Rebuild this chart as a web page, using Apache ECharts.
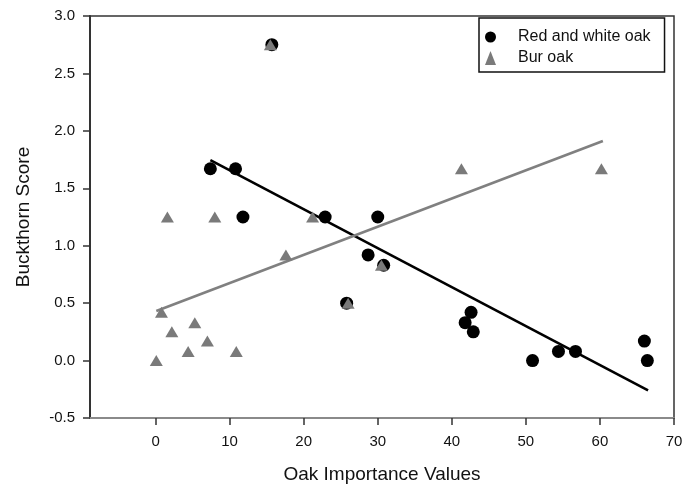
<!DOCTYPE html>
<html>
<head>
<meta charset="utf-8">
<script src="https://cdn.jsdelivr.net/npm/echarts@6/dist/echarts.min.js"></script>
<style>
html,body{margin:0;padding:0;background:#fff;}
#chart{width:689px;height:489px;}
</style>
</head>
<body>
<div id="chart"></div>
<script>
// Red and white oak (black circles): [importance value, buckthorn score]
const redWhiteOak = [
  [7.4, 1.67], [10.8, 1.67], [11.8, 1.25], [15.7, 2.75], [22.9, 1.25],
  [30.0, 1.25], [28.7, 0.92], [30.8, 0.83], [25.8, 0.5], [41.8, 0.33],
  [42.6, 0.42], [42.9, 0.25], [50.9, 0.0], [54.4, 0.08], [56.7, 0.08],
  [66.0, 0.17], [66.4, 0.0]
];
// Bur oak (grey triangles)
const burOak = [
  [0.1, 0.0], [0.8, 0.42], [1.6, 1.25], [2.2, 0.25], [4.4, 0.08],
  [5.3, 0.33], [7.0, 0.17], [8.0, 1.25], [10.9, 0.08], [15.5, 2.75],
  [17.6, 0.92], [21.2, 1.25], [26.0, 0.5], [30.5, 0.83], [41.3, 1.67],
  [60.2, 1.67]
];
// Fitted regression lines (end points)
const redWhiteFit = [[7.4, 1.745], [66.5, -0.26]];
const burFit = [[0.1, 0.432], [60.4, 1.911]];

const xTicks = [0, 10, 20, 30, 40, 50, 60, 70];
const seriesNames = ['Red and white oak', 'Bur oak'];

const FONT = "'Liberation Sans', Arial, sans-serif";
const chart = echarts.init(document.getElementById('chart'));
chart.setOption({
  animation: false,
  backgroundColor: '#fff',
  grid: {
    left: 90, right: 15, top: 16, bottom: 68,
    show: true, borderColor: '#333', borderWidth: 1.5, backgroundColor: 'transparent'
  },
  legend: {
    data: seriesNames,
    orient: 'vertical',
    left: 479, top: 18,
    padding: [11, 14, 6, 6],
    borderColor: '#111', borderWidth: 1.5,
    backgroundColor: '#fff',
    itemWidth: 11, itemHeight: 14, itemGap: 5,
    textStyle: { fontFamily: FONT, fontSize: 16, color: '#111', lineHeight: 14, padding: [0, 0, 0, 17] }
  },
  xAxis: {
    type: 'value', min: -8.85, max: 70,
    name: 'Oak Importance Values', nameLocation: 'middle', nameGap: 47,
    nameTextStyle: { fontFamily: FONT, fontSize: 19, color: '#111' },
    axisLine: { show: true, onZero: false, lineStyle: { color: '#8a8a8a', width: 2 } },
    axisTick: { show: true, inside: false, length: 7, customValues: xTicks, lineStyle: { color: '#333', width: 1.5 } },
    axisLabel: { customValues: xTicks, margin: 16, fontFamily: FONT, fontSize: 15, color: '#111' },
    splitLine: { show: false }
  },
  yAxis: {
    type: 'value', min: -0.5, max: 3.0, interval: 0.5,
    name: 'Buckthorn Score', nameLocation: 'middle', nameGap: 57,
    nameTextStyle: { fontFamily: FONT, fontSize: 19, color: '#111' },
    axisLine: { show: true, onZero: false, lineStyle: { color: '#333', width: 2 } },
    axisTick: { show: true, inside: false, length: 7, lineStyle: { color: '#333', width: 1.5 } },
    axisLabel: { margin: 15, fontFamily: FONT, fontSize: 15, color: '#111',
      formatter: v => v.toFixed(1) },
    splitLine: { show: false }
  },
  series: [
    {
      name: 'fitRW', type: 'line', data: redWhiteFit, showSymbol: false, silent: true,
      lineStyle: { color: '#000', width: 2.6 }, z: 2
    },
    {
      name: 'fitBur', type: 'line', data: burFit, showSymbol: false, silent: true,
      lineStyle: { color: '#808080', width: 2.6 }, z: 2
    },
    {
      name: seriesNames[0], type: 'scatter', data: redWhiteOak,
      symbol: 'circle', symbolSize: 13,
      itemStyle: { color: '#000', opacity: 1 }, z: 3
    },
    {
      name: seriesNames[1], type: 'scatter', data: burOak,
      symbol: 'triangle', symbolSize: [13, 11],
      itemStyle: { color: '#7a7a7a', opacity: 1 }, z: 4
    }
  ]
});
</script>
</body>
</html>
